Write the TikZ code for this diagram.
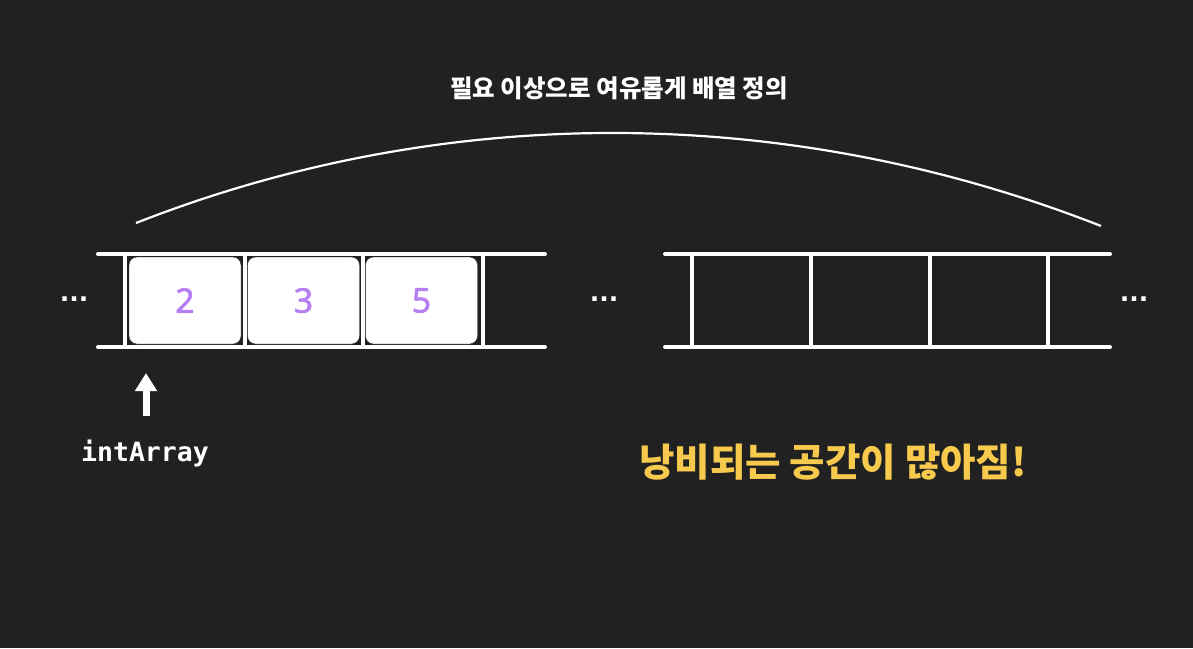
\documentclass[tikz,border=0pt]{standalone}
\usepackage{fontspec}
\setmainfont{Noto Sans}
\setmonofont{DejaVu Sans Mono}
\newfontfamily\krfont{Noto Sans CJK KR}
\newfontfamily\dotfont{DejaVu Sans}
\newfontfamily\numfont[FakeBold=1.6]{Noto Sans}
\usetikzlibrary{arrows.meta}
\usetikzlibrary{positioning}
\definecolor{bgdark}{HTML}{212121}
\definecolor{numpurple}{HTML}{B77EF3}
\definecolor{warnyellow}{HTML}{F7C94C}
\tikzset{
  rail/.style = {draw=white, line width=4pt, line cap=round},% rail haut et bas
  sep/.style = {draw=white, line width=4pt},% separateur de case
  cell/.style = {rectangle, rounded corners=8pt, fill=white, draw=bgdark,
    minimum width=112pt, minimum height=87pt, inner sep=0pt,
    text=numpurple, font=\numfont\fontsize{34}{34}\selectfont},% case remplie
  dots/.style = {text=white, font=\dotfont\bfseries\fontsize{25}{25}\selectfont,
    inner sep=0pt}
}

\begin{document}
\begin{tikzpicture}[x=1pt,y=-1pt]
\fill[bgdark] (0,0) rectangle (1193,648);
\useasboundingbox (0,0) rectangle (1193,648);

\node [text=white, font=\krfont\bfseries\fontsize{24.5}{24.5}\selectfont] (title) at (619,88) {필요 이상으로 여유롭게 배열 정의};
\draw[white, line width=2.2pt] (136,223) .. controls (447,101) and (790,104) .. (1101,226);

% tableau de gauche
\draw[rail] (98,254) -- (545,254);
\draw[rail] (98,347) -- (545,347);
\draw[sep] (125,254) -- (125,347);
\draw[sep] (244.5,254) -- (244.5,347);
\draw[sep] (362.5,254) -- (362.5,347);
\draw[sep] (483,254) -- (483,347);
\node [cell] (c1) at (185,300.5) {2};
\node [cell] (c2) at (303.5,300.5) {3};
\node [cell] (c3) at (421.5,300.5) {5};

% tableau de droite
\draw[rail] (665,254) -- (1110,254);
\draw[rail] (665,347) -- (1110,347);
\draw[sep] (692,254) -- (692,347);
\draw[sep] (810.5,254) -- (810.5,347);
\draw[sep] (929.5,254) -- (929.5,347);
\draw[sep] (1047.5,254) -- (1047.5,347);

\node [dots] (dl) at (74,299) {...};
\node [dots] (dm) at (604,299) {...};
\node [dots] (dr) at (1134,299) {...};

\node [text=white, font=\ttfamily\bfseries\fontsize{26.5}{26.5}\selectfont] (ptr) at (145,453) {intArray};
\coordinate (tail) at (146,416);
\coordinate (tip) at (146,373);
\draw[-{Triangle[width=21pt,length=18pt]}, white, line width=7pt] (tail) -- (tip);

\node [text=warnyellow, font=\krfont\bfseries\fontsize{38.5}{38.5}\selectfont] (waste) at (833,462) {낭비되는 공간이 많아짐!};
\end{tikzpicture}
\end{document}
